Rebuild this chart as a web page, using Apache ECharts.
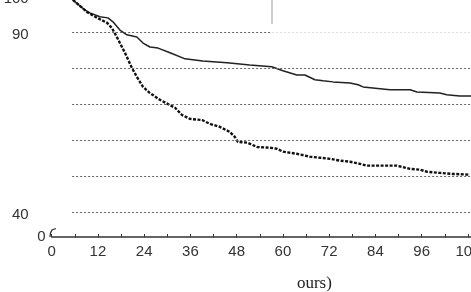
<!DOCTYPE html>
<html>
<head>
<meta charset="utf-8">
<script src="https://cdn.jsdelivr.net/npm/echarts@6/dist/echarts.min.js"></script>
<style>
html,body{margin:0;padding:0;background:#fff;}
#c{width:471px;height:292px;}
</style>
</head>
<body>
<div id="c"></div>
<script>
// Time (hours) values and survival (%) values
const solidTime = [0, 4.4, 5.5, 8.6, 9.9, 12.5, 14.6, 15.9, 17.7, 19.5, 22.1, 23.7, 25.5, 27.6, 30.7, 34.6, 39.2, 45.5, 51.4, 57.1, 60.0, 63.6, 65.7, 68.3, 70.4, 73.0, 77.4, 79.5, 80.8, 85.2, 87.8, 93.0, 94.8, 100.7, 102.5, 105.9, 108.8];
const solidValue = [100, 100, 99.0, 96.2, 95.4, 94.3, 94.0, 92.9, 90.6, 89.3, 88.7, 87.0, 85.9, 85.6, 84.3, 82.6, 82.0, 81.5, 80.9, 80.4, 79.3, 78.1, 78.1, 76.8, 76.5, 76.2, 75.9, 75.4, 74.8, 74.3, 74.0, 74.0, 73.4, 73.1, 72.6, 72.3, 72.3];

const dottedTime = [0, 4.4, 5.5, 9.2, 11.8, 14.4, 15.6, 16.9, 17.7, 19.0, 20.8, 22.1, 23.7, 25.5, 28.1, 32.0, 33.8, 35.9, 39.0, 41.1, 43.6, 46.2, 47.5, 48.3, 50.7, 53.3, 56.6, 58.4, 60.0, 63.6, 67.0, 69.6, 72.2, 74.8, 77.4, 80.0, 81.8, 87.8, 89.6, 93.0, 95.5, 97.4, 100.7, 104.1, 108.5];
const dottedValue = [100, 100, 99.0, 95.6, 94.0, 92.6, 91.2, 88.7, 87.0, 84.3, 80.1, 77.6, 74.8, 73.1, 71.2, 69.0, 67.0, 65.9, 65.6, 64.5, 63.7, 62.3, 60.9, 59.5, 59.3, 58.1, 57.9, 57.6, 56.8, 56.2, 55.4, 55.1, 54.8, 54.3, 54.0, 53.4, 52.9, 52.9, 52.9, 52.0, 51.8, 51.2, 50.9, 50.6, 50.4];

const yTickLabels = [40, 90, 100];
const gridValues = [40, 50, 60, 70, 80];
const xAxisName = 'ours)';

const X_MAX = 108.8, Y_MIN = 33.06, Y_MAX = 100, GRID_START = 5.3, LEGEND_EDGE = 57.2;

const zip = (a, b) => a.map((v, i) => [v, b[i]]);

const gridLines = gridValues.map(v => [{coord: [GRID_START, v]}, {coord: [X_MAX, v]}]);
gridLines.push([{coord: [GRID_START, 90]}, {coord: [LEGEND_EDGE, 90]}]);
const faintLine = [[{coord: [LEGEND_EDGE, 90]}, {coord: [X_MAX, 90]}]];

const chart = echarts.init(document.getElementById('c'), null, {renderer: 'canvas'});
chart.setOption({
  animation: false,
  backgroundColor: '#fff',
  grid: {left: 51.7, right: 0, top: -3.7, bottom: 55, containLabel: false, outerBoundsMode: 'none'},
  xAxis: {
    type: 'value', min: 0, max: X_MAX, interval: 12,
    name: xAxisName, nameLocation: 'middle', nameGap: 38,
    nameTextStyle: {fontFamily: 'Liberation Serif', fontSize: 17, color: '#222', padding: [0, 0, 0, 106]},
    axisLine: {show: true, lineStyle: {color: '#333', width: 1.5}},
    axisTick: {show: true, inside: true, length: 3, lineStyle: {color: '#333', width: 1}},
    minorTick: {show: true, splitNumber: 2, length: 3, lineStyle: {color: '#333', width: 1}},
    axisLabel: {fontFamily: 'Liberation Sans', fontSize: 15, color: '#333', margin: 7, hideOverlap: false},
    splitLine: {show: false}
  },
  yAxis: {
    type: 'value', min: Y_MIN, max: Y_MAX,
    axisLine: {show: false}, axisTick: {show: false}, splitLine: {show: false},
    axisLabel: {
      customValues: [Y_MIN].concat(yTickLabels),
      margin: 6,
      formatter: v => v < 35 ? '{z|0}' : '{n|' + Math.round(v) + '}',
      rich: {
        z: {fontFamily: 'Liberation Sans', fontSize: 15, color: '#333'},
        n: {fontFamily: 'Liberation Sans', fontSize: 15, color: '#333', padding: [5, 17, 0, 0]}
      }
    }
  },
  series: [
    {
      type: 'line', data: zip(solidTime, solidValue), symbol: 'none',
      lineStyle: {color: '#222', width: 1.5}, z: 3,
      markLine: {silent: true, symbol: 'none', label: {show: false},
        lineStyle: {color: '#666', width: 1, type: [2, 2]}, data: gridLines}
    },
    {
      type: 'line', data: zip(dottedTime, dottedValue), symbol: 'none',
      lineStyle: {color: '#111', width: 2.4, type: [3, 1.5]}, z: 3,
      markLine: {silent: true, symbol: 'none', label: {show: false},
        lineStyle: {color: '#ddd', width: 1, type: [2, 2]}, data: faintLine}
    }
  ],
  graphic: [
    {type: 'line', shape: {x1: 272, y1: 0, x2: 272, y2: 24}, style: {stroke: '#999', lineWidth: 1}},
    {type: 'polyline', shape: {points: [[50, 237], [50.5, 233], [52, 230], [56, 228.5]]}, style: {stroke: '#333', lineWidth: 1.3, fill: null}}
  ]
});
</script>
</body>
</html>
